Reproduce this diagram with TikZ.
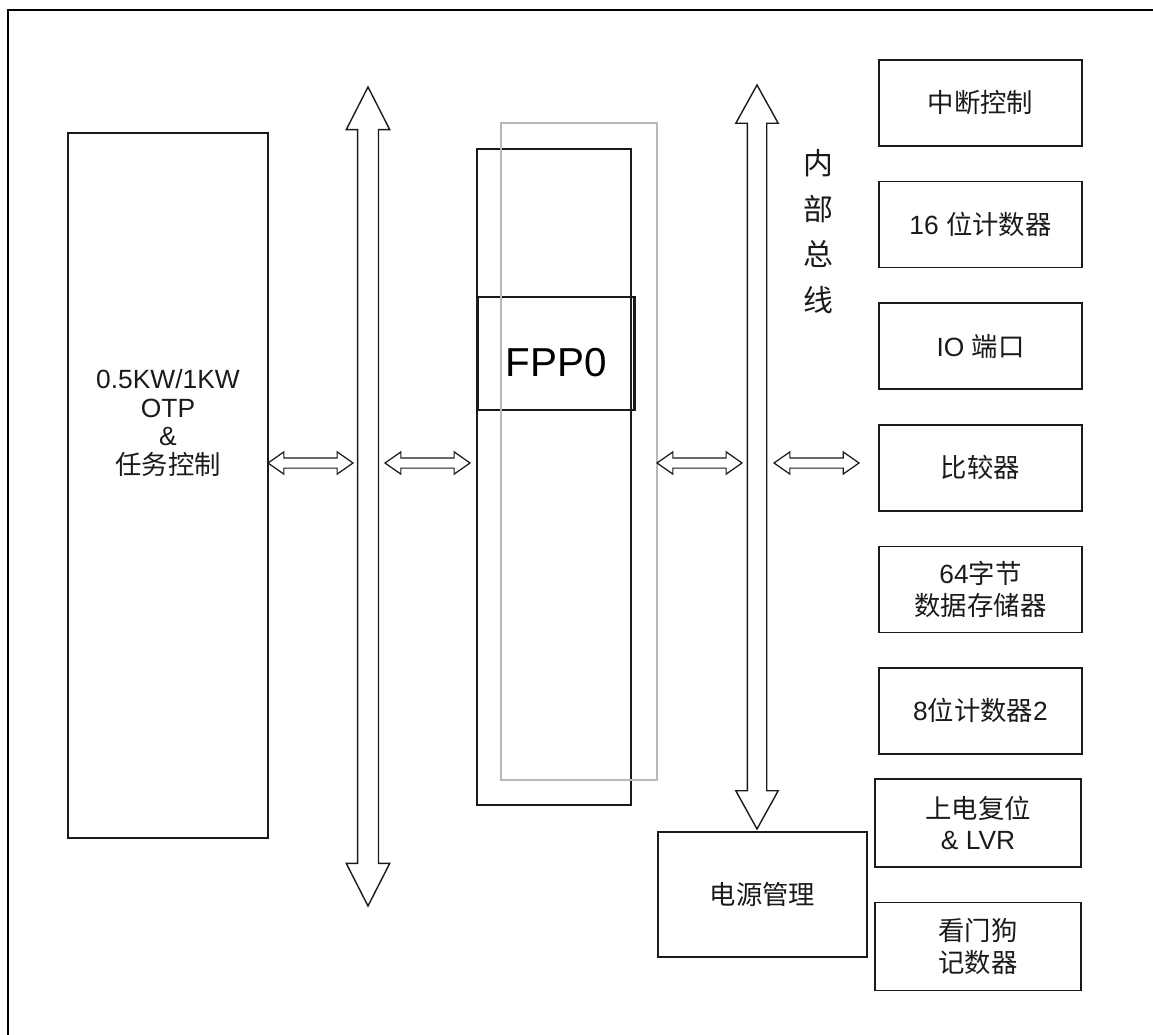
\documentclass[tikz,border=0pt]{standalone}
\usepackage{fontspec}
\setmainfont{Liberation Sans}
\newfontfamily\cjk{Noto Sans CJK SC}
\definecolor{blkline}{HTML}{1A1A1A}
\definecolor{boxgray}{HTML}{B8B8B8}
\definecolor{txtdark}{HTML}{1A1A1A}
\usetikzlibrary{shapes.arrows,positioning}

\begin{document}
\begin{tikzpicture}[
  blk/.style={draw=blkline, line width=0.9pt, minimum width=4.06cm,
              minimum height=1.72cm, align=center, inner sep=0pt,
              font=\fontsize{15}{18}\selectfont\color{txtdark}},
  bus/.style={double arrow, draw=blkline, line width=0.8pt, rotate=90,
              inner xsep=0pt, inner ysep=0.195cm,
              double arrow head extend=0.225cm, double arrow tip angle=54},
  link/.style={double arrow, draw=blkline, line width=0.7pt,
               inner xsep=0pt, inner ysep=0.09cm, minimum height=1.7cm,
               double arrow head extend=0.12cm, double arrow tip angle=70},
  node distance=0.68cm
]
  \useasboundingbox (0,0) rectangle (23.06,-20.70);
  % outer frame, only top and left edges show
  \draw[line width=1.7pt] (23.06,-0.2) -- (0.16,-0.2) -- (0.16,-20.70);

  % program memory
  \node[blk, minimum width=4cm, minimum height=14.1cm] (otp) at (3.36,-9.71) {};
  \node[align=center, font=\fontsize{15}{16.5}\selectfont\color{txtdark}] (otptxt)
    at (3.36,-8.46) {0.5KW/1KW\\OTP\\\&\\{\cjk 任务控制}};

  % the two buses
  \node[bus, minimum height=16.38cm] (lbus) at (7.36,-9.93) {};
  \node[bus, minimum height=14.88cm, inner ysep=0.18cm,
        double arrow head extend=0.23cm, double arrow tip angle=58] (rbus)
    at (15.14,-9.14) {};
  \node[align=center, font=\cjk\fontsize{17}{26}\selectfont\color{txtdark}] (buslbl)
    at (16.36,-4.63) {内\\部\\总\\线};

  % core
  \node[draw=blkline, line width=0.9pt, minimum width=3.08cm,
        minimum height=13.12cm] (cpu) at (11.08,-9.54) {};
  \node[draw=blkline, line width=1.7pt, minimum width=3.12cm, minimum height=2.26cm,
        text height=26pt, font=\fontsize{23}{26}\selectfont] (fpp)
    at (11.12,-7.07) {FPP0};
  \node[draw=boxgray, line width=1.3pt, minimum width=3.12cm,
        minimum height=13.14cm] (core) at (11.58,-9.03) {};

  % bus links
  \node[link] (l1) at (6.21,-9.26) {};
  \node[link] (l2) at (8.55,-9.26) {};
  \node[link] (l3) at (13.99,-9.26) {};
  \node[link] (l4) at (16.33,-9.26) {};

  % peripherals
  \node[blk] (irq) at (19.61,-2.06) {{\cjk 中断控制}};
  \node[blk, below=of irq] (t16) {16 {\cjk 位计数器}};
  \node[blk, below=of t16] (io) {IO {\cjk 端口}};
  \node[blk, below=of io] (cmp) {{\cjk 比较器}};
  \node[blk, below=of cmp] (ram) {64{\cjk 字节}\\{\cjk 数据存储器}};
  \node[blk, below=of ram] (t8) {8{\cjk 位计数器}2};
  \node[blk, minimum width=4.12cm, minimum height=1.76cm] (por)
    at (19.56,-16.46) {{\cjk 上电复位}\\\& LVR};
  \node[blk, minimum width=4.12cm, minimum height=1.76cm, below=of por] (wdt)
    {{\cjk 看门狗}\\{\cjk 记数器}};
  \node[blk, minimum width=4.18cm, minimum height=2.5cm] (pwr)
    at (15.25,-17.89) {{\cjk 电源管理}};
\end{tikzpicture}
\end{document}
